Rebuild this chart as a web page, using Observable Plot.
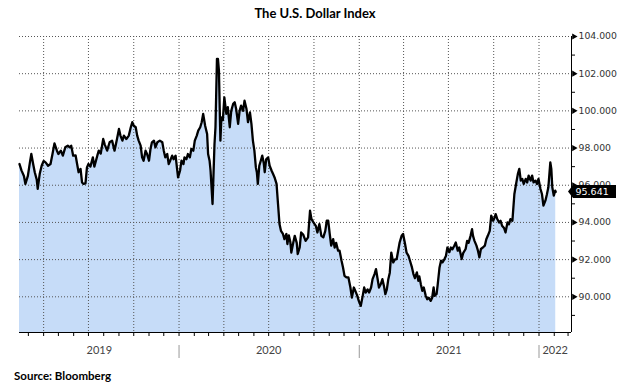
<!DOCTYPE html>
<html><head><meta charset="utf-8">
<script src="https://cdn.jsdelivr.net/npm/d3@7"></script>
<script src="https://cdn.jsdelivr.net/npm/@observablehq/plot@0.6"></script>
<style>
body{margin:0;background:#fff;}
#wrap{position:relative;width:630px;height:389px;overflow:hidden;}
#title{position:absolute;top:5px;left:0;width:630px;text-align:center;font:bold 13px Lato, sans-serif;color:#000;}
#caption{position:absolute;top:369px;left:14px;font:bold 11.5px Lato, sans-serif;color:#000;}
</style></head><body>
<div id="wrap"><div id="chart"></div><div id="title">The U.S. Dollar Index</div><div id="caption">Source: Bloomberg</div></div>
<script>
const dates = [
"2019-02-11","2019-02-15","2019-02-20","2019-02-23","2019-02-28","2019-03-04","2019-03-07","2019-03-11","2019-03-14","2019-03-18",
"2019-03-20","2019-03-24","2019-03-28","2019-04-01","2019-04-05","2019-04-10","2019-04-15","2019-04-19","2019-04-23","2019-04-28",
"2019-05-01","2019-05-06","2019-05-10","2019-05-15","2019-05-20","2019-05-24","2019-05-27","2019-05-31","2019-06-05","2019-06-08",
"2019-06-11","2019-06-15","2019-06-18","2019-06-21","2019-06-25","2019-06-28","2019-07-01","2019-07-05","2019-07-10","2019-07-13",
"2019-07-19","2019-07-22","2019-07-26","2019-07-31","2019-08-03","2019-08-08","2019-08-13","2019-08-18","2019-08-23","2019-08-28",
"2019-09-01","2019-09-04","2019-09-08","2019-09-11","2019-09-16","2019-09-21","2019-09-25","2019-09-28","2019-10-01","2019-10-05",
"2019-10-08","2019-10-11","2019-10-15","2019-10-18","2019-10-21","2019-10-25","2019-10-28","2019-11-01","2019-11-04","2019-11-07",
"2019-11-11","2019-11-14","2019-11-18","2019-11-23","2019-11-28","2019-12-01","2019-12-04","2019-12-08","2019-12-11","2019-12-14",
"2019-12-18","2019-12-21","2019-12-25","2019-12-28","2019-12-30","2020-01-03","2020-01-06","2020-01-10","2020-01-12","2020-01-16",
"2020-01-19","2020-01-23","2020-01-26","2020-01-30","2020-02-02","2020-02-06","2020-02-09","2020-02-13","2020-02-16","2020-02-19",
"2020-02-23","2020-02-27","2020-02-29","2020-03-03","2020-03-05","2020-03-09","2020-03-11","2020-03-13","2020-03-15","2020-03-18",
"2020-03-20","2020-03-22","2020-03-25","2020-03-27","2020-03-30","2020-04-02","2020-04-06","2020-04-09","2020-04-13","2020-04-16",
"2020-04-20","2020-04-23","2020-04-26","2020-04-30","2020-05-03","2020-05-06","2020-05-10","2020-05-13","2020-05-17","2020-05-20",
"2020-05-24","2020-05-27","2020-05-30","2020-06-02","2020-06-05","2020-06-07","2020-06-09","2020-06-12","2020-06-15","2020-06-18",
"2020-06-21","2020-06-23","2020-06-26","2020-06-30","2020-07-03","2020-07-07","2020-07-10","2020-07-13","2020-07-17","2020-07-20",
"2020-07-23","2020-07-26","2020-07-30","2020-08-02","2020-08-06","2020-08-08","2020-08-11","2020-08-14","2020-08-16","2020-08-20",
"2020-08-23","2020-08-27","2020-08-29","2020-09-02","2020-09-05","2020-09-09","2020-09-14","2020-09-19","2020-09-23","2020-09-26",
"2020-09-30","2020-10-05","2020-10-08","2020-10-12","2020-10-16","2020-10-20","2020-10-24","2020-10-27","2020-10-30","2020-11-02",
"2020-11-05","2020-11-09","2020-11-12","2020-11-15","2020-11-19","2020-11-22","2020-11-26","2020-11-29","2020-12-02","2020-12-06",
"2020-12-10","2020-12-14","2020-12-17","2020-12-21","2020-12-24","2020-12-28","2020-12-31","2021-01-04","2021-01-08","2021-01-11",
"2021-01-14","2021-01-18","2021-01-21","2021-01-25","2021-01-28","2021-02-01","2021-02-04","2021-02-07","2021-02-10","2021-02-14",
"2021-02-17","2021-02-20","2021-02-23","2021-02-26","2021-03-01","2021-03-04","2021-03-07","2021-03-11","2021-03-14","2021-03-18",
"2021-03-21","2021-03-24","2021-03-28","2021-03-31","2021-04-04","2021-04-07","2021-04-11","2021-04-14","2021-04-18","2021-04-21",
"2021-04-24","2021-04-28","2021-05-01","2021-05-03","2021-05-06","2021-05-09","2021-05-12","2021-05-16","2021-05-19","2021-05-22",
"2021-05-26","2021-05-29","2021-06-01","2021-06-03","2021-06-07","2021-06-09","2021-06-13","2021-06-16","2021-06-19","2021-06-23",
"2021-06-26","2021-06-29","2021-07-03","2021-07-06","2021-07-09","2021-07-13","2021-07-16","2021-07-20","2021-07-23","2021-07-28",
"2021-07-31","2021-08-05","2021-08-08","2021-08-11","2021-08-15","2021-08-18","2021-08-20","2021-08-23","2021-08-27","2021-08-30",
"2021-09-02","2021-09-05","2021-09-09","2021-09-13","2021-09-16","2021-09-19","2021-09-23","2021-09-26","2021-09-30","2021-10-03",
"2021-10-05","2021-10-08","2021-10-12","2021-10-15","2021-10-18","2021-10-22","2021-10-25","2021-10-29","2021-11-01","2021-11-04",
"2021-11-08","2021-11-10","2021-11-12","2021-11-16","2021-11-19","2021-11-22","2021-11-25","2021-11-28","2021-12-01","2021-12-05",
"2021-12-08","2021-12-11","2021-12-15","2021-12-18","2021-12-21","2021-12-25","2021-12-28","2021-12-31","2022-01-04","2022-01-07",
"2022-01-10","2022-01-14","2022-01-17","2022-01-20","2022-01-24","2022-01-26","2022-01-28","2022-01-31","2022-02-03","2022-02-04"
];
const values = [
97.14,96.80,96.50,96.07,96.50,97.20,97.68,97.10,96.70,96.30,
95.80,96.60,97.05,97.30,97.23,97.05,97.14,97.68,98.25,97.86,
97.68,97.86,97.59,98.04,98.13,98.04,98.13,97.59,97.60,97.14,
96.70,96.88,96.15,96.07,96.10,96.96,97.14,97.00,97.50,97.00,
97.59,97.86,97.70,98.49,98.20,97.86,98.31,98.40,97.86,98.49,
99.03,98.67,98.40,98.67,98.49,98.67,99.12,99.39,99.20,99.12,
98.67,98.40,98.13,97.50,97.32,97.86,97.68,97.32,97.95,98.31,
98.40,98.04,98.31,98.40,98.31,97.86,97.50,97.68,97.14,97.32,
97.59,97.40,97.59,96.88,96.42,96.78,97.32,97.14,97.50,97.40,
97.68,97.50,97.95,97.86,98.40,98.67,98.94,99.12,99.39,99.84,
99.20,98.76,97.68,97.32,96.78,94.99,96.60,98.22,99.12,102.80,
102.80,102.17,98.40,99.65,99.50,100.73,99.84,100.20,99.12,100.00,
100.38,100.46,100.10,99.30,100.00,100.28,100.00,100.55,100.10,99.39,
99.92,99.30,98.40,97.86,96.96,96.70,96.07,97.05,97.32,97.59,
97.20,96.70,97.40,97.50,97.05,96.78,96.60,96.42,96.07,94.99,
93.91,93.55,93.38,93.10,93.38,92.84,93.30,92.95,92.38,92.92,
93.28,92.90,92.30,92.65,93.46,93.35,93.01,93.20,94.63,94.18,
94.00,93.80,93.46,93.91,93.28,93.20,93.55,94.09,94.09,93.38,
92.75,93.10,92.65,92.90,92.48,92.48,91.94,91.58,91.13,91.04,
91.04,90.50,89.96,90.50,90.32,90.05,89.78,89.51,90.05,90.50,
90.23,90.40,90.23,90.50,90.95,91.22,91.49,91.00,90.50,90.70,
90.95,90.60,90.14,90.40,90.95,91.30,92.38,91.85,92.00,92.03,
92.48,92.92,93.28,93.38,92.84,92.38,92.20,91.94,91.58,91.22,
91.00,91.31,90.86,91.10,90.68,90.32,90.50,90.05,89.87,89.95,
89.78,89.95,90.50,90.05,90.15,90.59,91.58,91.94,91.85,92.03,
92.20,92.65,92.40,92.65,92.55,92.75,92.92,92.48,92.65,92.03,
92.35,92.57,93.01,92.90,93.28,93.64,93.28,93.01,92.75,92.48,
92.12,92.57,92.65,92.75,93.10,93.28,93.55,94.36,94.09,94.27,
94.45,94.20,94.00,94.09,93.82,93.70,93.46,94.00,93.90,94.18,
94.09,94.81,95.53,96.15,96.60,96.88,96.25,96.34,96.07,96.34,
96.15,96.52,96.25,96.52,96.15,96.25,96.07,96.34,95.80,95.53,
94.90,95.17,95.50,95.89,97.23,96.88,95.89,95.44,95.71,95.641
];
const yTicks = [90, 92, 94, 96, 98, 100, 102, 104];
const yMinor = [89, 91, 93, 95, 97, 99, 101, 103];
const yearLabels = ["2019", "2020", "2021", "2022"];
const yearLabelDates = ["2019-07-23", "2020-07-01", "2021-07-02", "2022-02-03"];
const yearBreaks = ["2020-01-01", "2021-01-01", "2022-01-01"];
const xDomain = [new Date("2019-02-11"), new Date("2022-03-08")];
const yDomain = [88.08, 104];

const data = dates.map((d, i) => ({date: new Date(d), value: values[i]}));
const last = data[data.length - 1];

const chart = Plot.plot({
  width: 630, height: 389,
  marginTop: 36, marginBottom: 57, marginLeft: 19, marginRight: 59,
  x: {type: "utc", domain: xDomain, label: null},
  y: {domain: yDomain, label: null},
  style: {fontFamily: "DejaVu Sans", background: "transparent", overflow: "visible"},
  marks: [
    Plot.areaY(data, {x: "date", y1: yDomain[0], y2: "value", fill: "#c6dcf8"}),
    Plot.gridX({ticks: d3.utcMonth.every(3), stroke: "#555", strokeOpacity: 1, strokeDasharray: "1,2"}),
    Plot.gridY({ticks: yTicks, stroke: "#555", strokeOpacity: 1, strokeDasharray: "1,2"}),
    Plot.lineY(data, {x: "date", y: "value", stroke: "#000", strokeWidth: 2.3, strokeLinejoin: "round"}),
    Plot.ruleX([xDomain[1]], {stroke: "#000"}),
    Plot.ruleY([yDomain[0]], {stroke: "#000"}),
    Plot.axisX({ticks: d3.utcMonth.every(1), tickSize: 4, tickFormat: () => "", stroke: "#000", label: null}),
    Plot.axisX({ticks: yearBreaks.map(d => new Date(d)), tickSize: 13, dy: 13, tickFormat: () => "", stroke: "#999", label: null}),
    Plot.text(yearLabels, {x: (d, i) => new Date(yearLabelDates[i]), text: d => d, frameAnchor: "bottom", dy: 21, fontSize: 11, fill: "#444", fontFamily: "Lato"}),
    Plot.axisY({anchor: "right", ticks: yTicks, tickSize: 0, tickPadding: 7, tickFormat: d => d.toFixed(3), fontSize: 9.3, fill: "#333", label: null}),
    Plot.axisY({anchor: "right", ticks: yMinor, tickSize: 3, tickFormat: () => "", stroke: "#000", label: null}),
    Plot.dot(yTicks, {x: () => xDomain[1], y: d => d, symbol: "triangle", rotate: 90, r: 2.3, fill: "#000", dx: 2.5})
  ]
});

const sx = chart.scale("x"), sy = chart.scale("y");
const xr = sx.apply(xDomain[1]);
const yv = sy.apply(last.value);
const g = d3.select(chart).append("g");
g.append("path")
  .attr("d", `M${xr - 3},${yv} L${xr + 2},${yv - 6.5} L${xr + 45},${yv - 6.5} L${xr + 45},${yv + 6.5} L${xr + 2},${yv + 6.5} Z`)
  .attr("fill", "#000");
g.append("text")
  .attr("x", xr + 4.5).attr("y", yv).attr("dy", "0.35em")
  .attr("text-anchor", "start")
  .attr("fill", "#fff").attr("font-size", 9.5).attr("font-family", "DejaVu Sans")
  .text(last.value.toFixed(3));

document.getElementById("chart").appendChild(chart);
</script>
</body></html>
